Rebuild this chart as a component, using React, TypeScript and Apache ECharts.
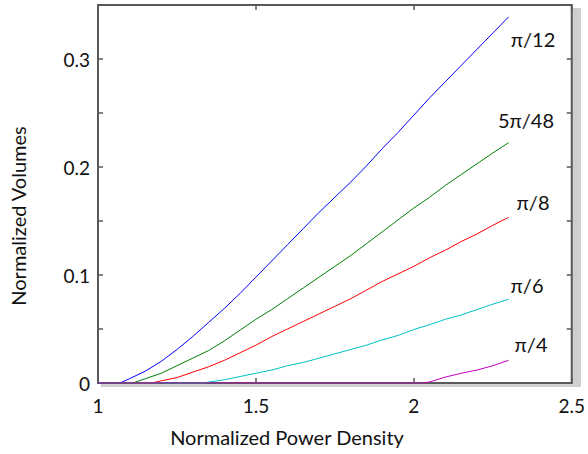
import { useEffect, useRef } from "react";
import * as echarts from "echarts";

// Normalized volume vs. normalized power density, one curve per angle.
const anglePi12: [number, number][] = [
  [1.0, 0], [1.07, 0], [1.1, 0.004], [1.15, 0.011], [1.2, 0.02], [1.25, 0.031],
  [1.3, 0.043], [1.35, 0.056], [1.4, 0.069], [1.45, 0.083], [1.5, 0.098],
  [1.55, 0.113], [1.6, 0.128], [1.65, 0.143], [1.7, 0.158], [1.75, 0.172],
  [1.8, 0.186], [1.85, 0.201], [1.9, 0.217], [1.95, 0.232], [2.0, 0.248],
  [2.05, 0.264], [2.1, 0.279], [2.15, 0.294], [2.2, 0.309], [2.25, 0.324], [2.3, 0.339],
];
const angle5Pi48: [number, number][] = [
  [1.0, 0], [1.11, 0], [1.15, 0.004], [1.2, 0.009], [1.25, 0.016], [1.3, 0.023],
  [1.35, 0.03], [1.4, 0.039], [1.45, 0.049], [1.5, 0.059], [1.55, 0.068],
  [1.6, 0.078], [1.65, 0.088], [1.7, 0.098], [1.75, 0.108], [1.8, 0.118],
  [1.85, 0.129], [1.9, 0.14], [1.95, 0.151], [2.0, 0.162], [2.05, 0.172],
  [2.1, 0.183], [2.15, 0.193], [2.2, 0.203], [2.25, 0.213], [2.3, 0.2225],
];
const anglePi8: [number, number][] = [
  [1.0, 0], [1.17, 0], [1.2, 0.002], [1.25, 0.005], [1.3, 0.01], [1.35, 0.015],
  [1.4, 0.021], [1.45, 0.028], [1.5, 0.035], [1.55, 0.043], [1.6, 0.05],
  [1.65, 0.057], [1.7, 0.064], [1.75, 0.071], [1.8, 0.078], [1.85, 0.086],
  [1.9, 0.094], [1.95, 0.101], [2.0, 0.108], [2.05, 0.116], [2.1, 0.123],
  [2.15, 0.131], [2.2, 0.138], [2.25, 0.146], [2.3, 0.1534],
];
const anglePi6: [number, number][] = [
  [1.0, 0], [1.33, 0], [1.4, 0.003], [1.45, 0.006], [1.5, 0.009], [1.55, 0.012],
  [1.6, 0.016], [1.65, 0.019], [1.7, 0.023], [1.75, 0.027], [1.8, 0.031],
  [1.85, 0.035], [1.9, 0.04], [1.95, 0.044], [2.0, 0.0495], [2.05, 0.054],
  [2.1, 0.059], [2.15, 0.063], [2.2, 0.068], [2.25, 0.073], [2.3, 0.0775],
];
const anglePi4: [number, number][] = [
  [1.0, 0], [2.03, 0], [2.05, 0.001], [2.1, 0.0055], [2.15, 0.009],
  [2.2, 0.012], [2.25, 0.016], [2.3, 0.021],
];

const curveNames = ["π/12", "5π/48", "π/8", "π/6", "π/4"];
const curveData = [anglePi12, angle5Pi48, anglePi8, anglePi6, anglePi4];
const curveColors = ["#0000ff", "#008000", "#ff0000", "#00c0c0", "#c000c0"];
// label anchors (pixel centres) beside each curve's end
const labelSpots: [number, number][] = [
  [533, 39], [526, 120], [533, 202], [527, 285], [531, 344],
];

const FONT = "Lato, 'Open Sans', 'DejaVu Sans', sans-serif";
const AXIS_COLOR = "#595959";
const GRID = { left: 98, right: 11, top: 5, bottom: 71 };
const W = 588;
const H = 454;

export default function App() {
  const ref = useRef<HTMLDivElement>(null);

  useEffect(() => {
    if (!ref.current) return;
    const chart = echarts.init(ref.current, undefined, { renderer: "svg" });

    const axisTick = { show: true, inside: true, length: 5, lineStyle: { color: AXIS_COLOR, width: 1.5 } };
    const hiddenLine = { show: false, onZero: false };

    const yFormatter = (v: number) =>
      Math.abs(v * 10 - Math.round(v * 10)) < 1e-6 ? String(Math.round(v * 10) / 10) : "";

    const plotW = W - GRID.left - GRID.right;
    const plotH = H - GRID.top - GRID.bottom;

    chart.setOption({
      animation: false,
      backgroundColor: "#ffffff",
      grid: {
        ...GRID,
        show: true,
        backgroundColor: "#ffffff",
        borderColor: AXIS_COLOR,
        borderWidth: 2,
      },
      xAxis: [
        {
          type: "value",
          position: "bottom",
          min: 1,
          max: 2.5,
          interval: 0.5,
          axisLine: hiddenLine,
          axisTick,
          splitLine: { show: false },
          axisLabel: { fontFamily: FONT, fontSize: 19, color: "#111", margin: 13 },
        },
        {
          type: "value",
          position: "top",
          min: 1,
          max: 2.5,
          interval: 0.5,
          axisLine: hiddenLine,
          axisTick,
          splitLine: { show: false },
          axisLabel: { show: false },
        },
      ],
      yAxis: [
        {
          type: "value",
          position: "left",
          min: 0,
          max: 0.35,
          interval: 0.05,
          axisLine: hiddenLine,
          axisTick,
          splitLine: { show: false },
          axisLabel: { fontFamily: FONT, fontSize: 19, color: "#111", margin: 8, formatter: yFormatter },
        },
        {
          type: "value",
          position: "right",
          min: 0,
          max: 0.35,
          interval: 0.05,
          axisLine: hiddenLine,
          axisTick,
          splitLine: { show: false },
          axisLabel: { show: false },
        },
      ],
      series: curveData.map((d, i) => ({
        name: curveNames[i],
        type: "line",
        data: d,
        showSymbol: false,
        symbol: "none",
        lineStyle: { color: curveColors[i], width: 1 },
        itemStyle: { color: curveColors[i] },
      })),
      graphic: [
        // drop shadow behind the plot frame
        {
          type: "rect",
          z: -10,
          shape: { x: GRID.left + 3, y: GRID.top + 3, width: plotW + 1, height: plotH + 1 },
          style: { fill: "#cfcfcf" },
          silent: true,
        },
        ...curveNames.map((n, i) => ({
          type: "text",
          x: labelSpots[i][0],
          y: labelSpots[i][1],
          style: {
            text: n,
            fontFamily: FONT,
            fontSize: 20,
            fill: "#111",
            align: "center",
            verticalAlign: "middle",
          },
        })),
        {
          type: "text",
          x: 287,
          y: 437,
          style: {
            text: "Normalized Power Density",
            fontFamily: FONT,
            fontSize: 20,
            fill: "#111",
            align: "center",
            verticalAlign: "middle",
          },
        },
        {
          type: "text",
          x: 18,
          y: 216,
          rotation: Math.PI / 2,
          style: {
            text: "Normalized Volumes",
            fontFamily: FONT,
            fontSize: 20,
            fill: "#111",
            align: "center",
            verticalAlign: "middle",
          },
        },
      ],
    });

    return () => chart.dispose();
  }, []);

  return (
    <div
      ref={ref}
      style={{ position: "fixed", left: 0, top: 0, width: W, height: H }}
    />
  );
}
